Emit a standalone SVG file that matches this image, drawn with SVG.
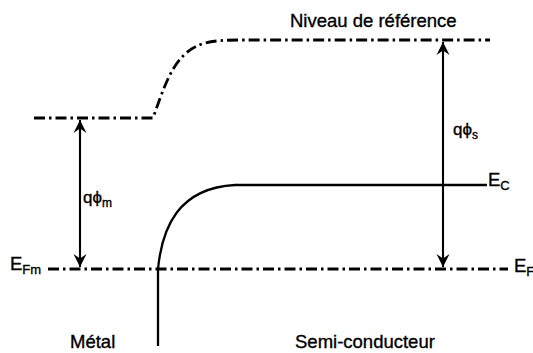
<svg xmlns="http://www.w3.org/2000/svg" width="533" height="353" viewBox="0 0 533 353">
<style>
.dd{fill:none;stroke:#000;stroke-width:2.8;stroke-dasharray:11 4 2.5 4}
.sl{fill:none;stroke:#000;stroke-width:2.3}
.ar{fill:none;stroke:#000;stroke-width:2.1;marker-start:url(#ah);marker-end:url(#ah)}
text{font-family:"Liberation Sans",Arial,sans-serif;fill:#000;stroke:#000;stroke-width:0.35}
.big{font-size:18.5px}
.sub{font-size:13px}
.q{font-size:17px}
.qs{font-size:12px}
</style>
<defs>
<marker id="ah" viewBox="-14 -8 16 16" markerWidth="16" markerHeight="16" refX="0" refY="0" orient="auto-start-reverse" markerUnits="userSpaceOnUse">
<path d="M0,0 L-13,-6.5 L-8.5,0 L-13,6.5 Z" fill="#000"/>
</marker>
</defs>
<g id="levels">
<path class="dd" d="M34,118 L153,118 C163,90 170,68 185,54 C197,43 210,40 240,40 L490,40"/>
<path class="dd" d="M48,269 L508,269"/>
<path class="sl" d="M158,346 L158,269 C162,228 178,188 235,185 L487,185"/>
</g>
<g id="connectors">
<line class="ar" x1="80" y1="120" x2="80" y2="267"/>
<line class="ar" x1="443" y1="42" x2="443" y2="267"/>
</g>
<g id="labels">
<text class="big" x="290" y="27">Niveau de référence</text>
<text x="83" y="203"><tspan class="q">qϕ</tspan><tspan class="qs" dy="4">m</tspan></text>
<text x="453" y="135"><tspan class="q">qϕ</tspan><tspan class="qs" dy="4">s</tspan></text>
<text x="488" y="186"><tspan class="big">E</tspan><tspan class="sub" dy="4">C</tspan></text>
<text x="10" y="270"><tspan class="big">E</tspan><tspan class="sub" dy="3.5">Fm</tspan></text>
<text x="514" y="272"><tspan class="big">E</tspan><tspan class="sub" dy="4">F</tspan></text>
<text class="big" x="70" y="348">Métal</text>
<text class="big" x="295" y="348">Semi-conducteur</text>
</g>
</svg>
